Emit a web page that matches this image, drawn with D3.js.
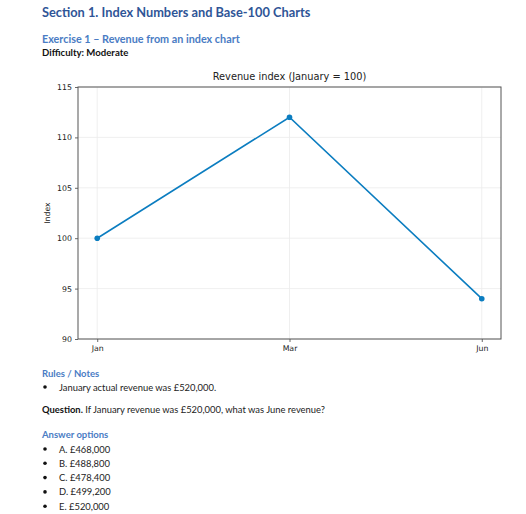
<!DOCTYPE html>
<html>
<head>
<meta charset="utf-8">
<script src="https://cdn.jsdelivr.net/npm/d3@7"></script>
<style>
  body { margin: 0; background: #fff; width: 526px; height: 514px; overflow: hidden; }
  svg { display: block; }
</style>
</head>
<body>
<div id="chart"></div>
<script>
const months = ["Jan", "Mar", "Jun"];
const indexValues = [100, 112, 94];
const yTicks = [90, 95, 100, 105, 110, 115];
const notes = ["January actual revenue was £520,000."];
const answers = ["A. £468,000", "B. £488,800", "C. £478,400", "D. £499,200", "E. £520,000"];

const W = 526, H = 514;
const svg = d3.select("#chart").append("svg").attr("width", W).attr("height", H);

const docFont = "Lato, 'Noto Sans', sans-serif";
const pltFont = "'DejaVu Sans', sans-serif";

// header text
svg.append("text").attr("x", 42).attr("y", 17)
  .attr("font-family", docFont).attr("font-weight", "bold").attr("font-size", 12.8)
  .attr("fill", "#2f5597").text("Section 1. Index Numbers and Base-100 Charts");
svg.append("text").attr("x", 42).attr("y", 43)
  .attr("font-family", docFont).attr("font-weight", "bold").attr("font-size", 10.8)
  .attr("fill", "#4a7cc4").text("Exercise 1 – Revenue from an index chart");
svg.append("text").attr("x", 42).attr("y", 56)
  .attr("font-family", docFont).attr("font-weight", "bold").attr("font-size", 9.6)
  .attr("fill", "#111").text("Difficulty: Moderate");

// plot area
const plot = { left: 78, right: 501, top: 87, bottom: 339 };

const x = d3.scaleLinear().domain([-0.1, months.length - 1 + 0.1]).range([plot.left, plot.right]);
const y = d3.scaleLinear().domain([90, 115]).range([plot.bottom, plot.top]);

const g = svg.append("g");

// grid
g.selectAll(".gx").data(months).enter().append("line")
  .attr("x1", (d, i) => x(i)).attr("x2", (d, i) => x(i))
  .attr("y1", plot.top).attr("y2", plot.bottom)
  .attr("stroke", "#ebebeb").attr("stroke-width", 0.8);
g.selectAll(".gy").data(yTicks).enter().append("line")
  .attr("x1", plot.left).attr("x2", plot.right)
  .attr("y1", d => y(d)).attr("y2", d => y(d))
  .attr("stroke", "#ebebeb").attr("stroke-width", 0.8);

// axes
const xAxis = g.append("g").attr("transform", `translate(0,${plot.bottom})`)
  .call(d3.axisBottom(x).tickValues(months.map((d, i) => i)).tickFormat(i => months[i]).tickSize(3).tickPadding(3));
const yAxis = g.append("g").attr("transform", `translate(${plot.left},0)`)
  .call(d3.axisLeft(y).tickValues(yTicks).tickSize(3).tickPadding(3));
[xAxis, yAxis].forEach(a => {
  a.select(".domain").remove();
  a.selectAll("line").attr("stroke", "#444").attr("stroke-width", 0.8);
  a.selectAll("text").attr("font-family", pltFont).attr("font-size", 7.8).attr("fill", "#222");
});

// frame
g.append("rect").attr("x", plot.left).attr("y", plot.top)
  .attr("width", plot.right - plot.left).attr("height", plot.bottom - plot.top)
  .attr("fill", "none").attr("stroke", "#555").attr("stroke-width", 1);

// title and label
g.append("text").attr("x", (plot.left + plot.right) / 2).attr("y", 80)
  .attr("text-anchor", "middle").attr("font-family", pltFont).attr("font-size", 9.8)
  .attr("fill", "#222").text("Revenue index (January = 100)");
g.append("text").attr("transform", `translate(50,${(plot.top + plot.bottom) / 2}) rotate(-90)`)
  .attr("text-anchor", "middle").attr("font-family", pltFont).attr("font-size", 7.8)
  .attr("fill", "#222").text("Index");

// line + markers
const line = d3.line().x((d, i) => x(i)).y(d => y(d));
g.append("path").datum(indexValues).attr("d", line)
  .attr("fill", "none").attr("stroke", "#0b7dc0").attr("stroke-width", 1.6);
g.selectAll(".pt").data(indexValues).enter().append("circle")
  .attr("cx", (d, i) => x(i)).attr("cy", d => y(d)).attr("r", 2.8)
  .attr("fill", "#0b7dc0");

// notes section
const body = svg.append("g").attr("font-family", docFont);
const fs = 9.4;
body.append("text").attr("x", 42).attr("y", 377).attr("font-size", 9.5).attr("font-weight", "bold")
  .attr("fill", "#4a7cc4").text("Rules / Notes");
notes.forEach((n, i) => {
  body.append("circle").attr("cx", 45).attr("cy", 387 + i * 14).attr("r", 1.8).attr("fill", "#111");
  body.append("text").attr("x", 59).attr("y", 390.5 + i * 14).attr("font-size", fs).attr("fill", "#222").text(n);
});
const q = body.append("text").attr("x", 42).attr("y", 412.5).attr("font-size", fs).attr("fill", "#222");
q.append("tspan").attr("font-weight", "bold").attr("fill", "#111").text("Question.");
q.append("tspan").text(" If January revenue was £520,000, what was June revenue?");

body.append("text").attr("x", 42).attr("y", 438).attr("font-size", 9.5).attr("font-weight", "bold")
  .attr("fill", "#4a7cc4").text("Answer options");
answers.forEach((a, i) => {
  body.append("circle").attr("cx", 45).attr("cy", 449 + i * 14.3).attr("r", 1.8).attr("fill", "#111");
  body.append("text").attr("x", 59).attr("y", 452.5 + i * 14.3).attr("font-size", fs).attr("fill", "#222").text(a);
});
</script>
</body>
</html>
